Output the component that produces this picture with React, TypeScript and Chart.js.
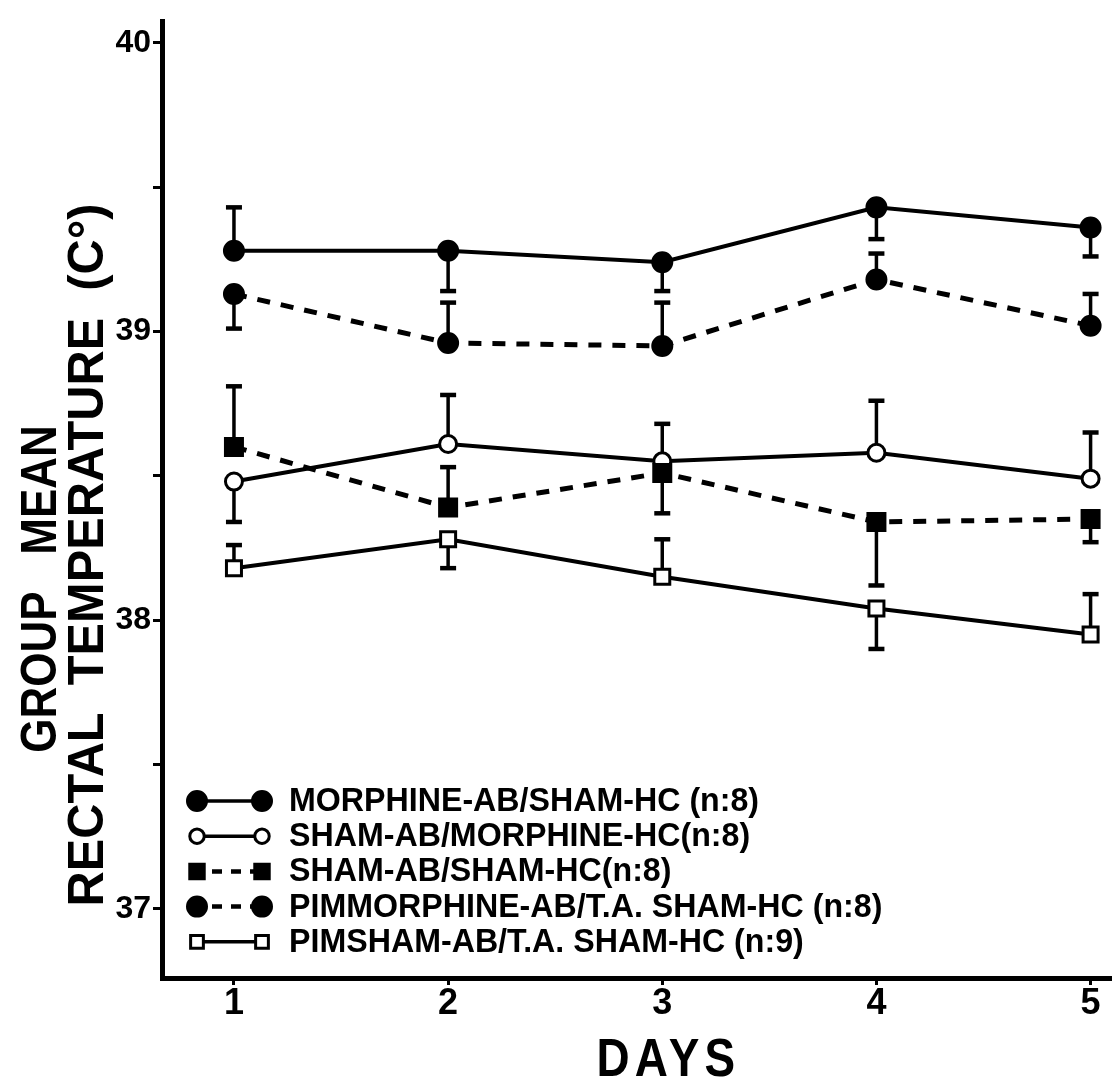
import React, { useEffect, useRef } from 'react';
import { Chart, registerables } from 'chart.js';

Chart.register(...registerables);

// ---------- data ----------
const days = [1, 2, 3, 4, 5];
const xTickValues = [1, 2, 3, 4, 5];
const yTickValues = [37, 37.5, 38, 38.5, 39, 39.5, 40];

const seriesLabels = [
  'MORPHINE-AB/SHAM-HC (n:8)',
  'SHAM-AB/MORPHINE-HC(n:8)',
  'SHAM-AB/SHAM-HC(n:8)',
  'PIMMORPHINE-AB/T.A. SHAM-HC (n:8)',
  'PIMSHAM-AB/T.A. SHAM-HC (n:9)',
];

const morphineAbShamHc = [39.28, 39.28, 39.24, 39.43, 39.36];
const shamAbMorphineHc = [38.48, 38.61, 38.55, 38.58, 38.49];
const shamAbShamHc = [38.6, 38.39, 38.51, 38.34, 38.35];
const pimMorphineAbTaShamHc = [39.13, 38.96, 38.95, 39.18, 39.02];
const pimShamAbTaShamHc = [38.18, 38.28, 38.15, 38.04, 37.95];

// standard error; positive = bar drawn upward, negative = drawn downward
const morphineAbShamHcSem = [0.15, -0.14, -0.1, -0.11, -0.1];
const shamAbMorphineHcSem = [-0.14, 0.17, 0.13, 0.18, 0.16];
const shamAbShamHcSem = [0.21, 0.14, -0.14, -0.22, -0.08];
const pimMorphineAbTaShamHcSem = [-0.12, 0.14, 0.15, 0.09, 0.11];
const pimShamAbTaShamHcSem = [0.08, -0.1, 0.13, -0.14, 0.14];

const xAxisTitle = 'DAYS';
const yAxisTitleLines = ['GROUP   MEAN', 'RECTAL  TEMPERATURE  (C°)'];

// ---------- styling ----------
const FONT = '"Liberation Sans", Arial, Helvetica, sans-serif';
const INK = '#000';

type Marker = { shape: 'circle' | 'rect'; filled: boolean };
const markers: Marker[] = [
  { shape: 'circle', filled: true },
  { shape: 'circle', filled: false },
  { shape: 'rect', filled: true },
  { shape: 'circle', filled: true },
  { shape: 'rect', filled: false },
];
const dashed = [false, false, true, true, false];

const seriesValues = [morphineAbShamHc, shamAbMorphineHc, shamAbShamHc, pimMorphineAbTaShamHc, pimShamAbTaShamHc];
const seriesSem = [morphineAbShamHcSem, shamAbMorphineHcSem, shamAbShamHcSem, pimMorphineAbTaShamHcSem, pimShamAbTaShamHcSem];

function drawMarker(ctx: CanvasRenderingContext2D, m: Marker, x: number, y: number, k = 1) {
  ctx.save();
  ctx.fillStyle = m.filled ? INK : '#fff';
  ctx.strokeStyle = INK;
  ctx.lineWidth = 3;
  ctx.beginPath();
  if (m.shape === 'circle') {
    ctx.arc(x, y, (m.filled ? 9.5 : 8.5) * k, 0, Math.PI * 2);
  } else {
    const h = (m.filled ? 8.5 : 7.5) * k;
    ctx.rect(x - h, y - h, 2 * h, 2 * h);
  }
  ctx.fill();
  ctx.stroke();
  ctx.restore();
}

const semBarsPlugin = {
  id: 'semBars',
  beforeDatasetsDraw(chart: any) {
    const ctx = chart.ctx as CanvasRenderingContext2D;
    const ys = chart.scales.y;
    chart.data.datasets.forEach((ds: any, di: number) => {
      const meta = chart.getDatasetMeta(di);
      meta.data.forEach((pt: any, i: number) => {
        const v = ds.data[i].y;
        const e = ds.sem[i];
        const yEnd = ys.getPixelForValue(v + e);
        ctx.save();
        ctx.strokeStyle = INK;
        ctx.lineWidth = 3.5;
        ctx.beginPath();
        ctx.moveTo(pt.x, pt.y);
        ctx.lineTo(pt.x, yEnd);
        ctx.stroke();
        ctx.lineWidth = 4.5;
        ctx.beginPath();
        ctx.moveTo(pt.x - 8, yEnd);
        ctx.lineTo(pt.x + 8, yEnd);
        ctx.stroke();
        ctx.restore();
      });
    });
  },
};

const markerPlugin = {
  id: 'customMarkers',
  afterDatasetsDraw(chart: any) {
    const ctx = chart.ctx as CanvasRenderingContext2D;
    chart.data.datasets.forEach((ds: any, di: number) => {
      const meta = chart.getDatasetMeta(di);
      meta.data.forEach((pt: any) => drawMarker(ctx, markers[di], pt.x, pt.y));
    });
  },
};

const legendPlugin = {
  id: 'boxLegend',
  afterDraw(chart: any) {
    const ctx = chart.ctx as CanvasRenderingContext2D;
    const top = 801;
    const gap = 35.2;
    const x1 = 197;
    const x2 = 262;
    chart.data.datasets.forEach((ds: any, i: number) => {
      const y = top + i * gap;
      ctx.save();
      ctx.strokeStyle = INK;
      ctx.lineWidth = dashed[i] ? 4.5 : 3.5;
      ctx.setLineDash(dashed[i] ? [10, 9] : []);
      ctx.beginPath();
      ctx.moveTo(x1 + (dashed[i] ? 15 : 0), y);
      ctx.lineTo(x2, y);
      ctx.stroke();
      ctx.restore();
      const k = markers[i].filled && markers[i].shape === 'circle' ? 1 : 0.85;
      drawMarker(ctx, markers[i], x1, y, k);
      drawMarker(ctx, markers[i], x2, y, k);
      ctx.save();
      ctx.fillStyle = INK;
      ctx.font = `bold 33px ${FONT}`;
      ctx.textBaseline = 'middle';
      ctx.textAlign = 'left';
      ctx.translate(289, y + 1);
      ctx.scale(0.975, 1);
      ctx.fillText(ds.label, 0, 0);
      ctx.restore();
    });
  },
};

const titlesPlugin = {
  id: 'axisTitles',
  afterDraw(chart: any) {
    const ctx = chart.ctx as CanvasRenderingContext2D;
    // y title, two rotated lines
    const lineX = [42, 89];
    const lineY = [589, 555];
    const lineScale = [0.88, 0.975];
    yAxisTitleLines.forEach((t, i) => {
      ctx.save();
      ctx.fillStyle = INK;
      ctx.font = `bold 50px ${FONT}`;
      ctx.textAlign = 'center';
      ctx.textBaseline = 'middle';
      ctx.translate(lineX[i], lineY[i]);
      ctx.rotate(-Math.PI / 2);
      ctx.scale(lineScale[i], 1);
      ctx.fillText(t, 0, 0);
      ctx.restore();
    });
    // x title
    ctx.save();
    ctx.fillStyle = INK;
    ctx.font = `bold 54px ${FONT}`;
    ctx.textAlign = 'center';
    ctx.textBaseline = 'alphabetic';
    (ctx as any).letterSpacing = '6px';
    const cx = chart.scales.x.getPixelForValue(3) + 6;
    ctx.translate(cx, 1076);
    ctx.scale(0.85, 1);
    ctx.fillText(xAxisTitle, 0, 0);
    ctx.restore();
  },
};

export default function App() {
  const ref = useRef<HTMLCanvasElement | null>(null);

  useEffect(() => {
    if (!ref.current) return;
    const datasets = seriesLabels.map((label, i) => ({
      label,
      data: days.map((d, k) => ({ x: d, y: seriesValues[i][k] })),
      sem: seriesSem[i],
      borderColor: INK,
      backgroundColor: INK,
      borderWidth: dashed[i] ? 5 : 4,
      borderDash: dashed[i] ? [13, 11] : [],
      pointRadius: 0,
      pointHoverRadius: 0,
      tension: 0,
      fill: false,
    }));

    const chart = new Chart(ref.current, {
      type: 'line',
      data: { datasets: datasets as any },
      plugins: [semBarsPlugin, markerPlugin, legendPlugin, titlesPlugin],
      options: {
        animation: false,
        responsive: false,
        maintainAspectRatio: false,
        layout: { padding: { top: 10, right: 0, bottom: 0, left: 0 } },
        plugins: { legend: { display: false }, tooltip: { enabled: false } },
        scales: {
          x: {
            type: 'linear',
            min: 0.664,
            max: 5.1,
            afterBuildTicks: (s: any) => {
              s.ticks = xTickValues.map((v) => ({ value: v }));
            },
            afterFit: (s: any) => {
              s.height = 100;
            },
            border: { display: true, color: INK, width: 5 },
            grid: { display: true, drawOnChartArea: false, drawTicks: true, tickLength: 7, tickWidth: 3, color: INK },
            ticks: {
              color: INK,
              font: { family: FONT, size: 36, weight: 'bold' },
              padding: -3,
              maxRotation: 0,
              callback: (v: any) => String(v),
            },
          },
          y: {
            type: 'linear',
            min: 36.76,
            max: 40.075,
            afterBuildTicks: (s: any) => {
              s.ticks = yTickValues.map((v) => ({ value: v }));
            },
            afterFit: (s: any) => {
              s.width = 162;
            },
            border: { display: true, color: INK, width: 5 },
            grid: { display: true, drawOnChartArea: false, drawTicks: true, tickLength: 9, tickWidth: 3, color: INK },
            ticks: {
              color: INK,
              font: { family: FONT, size: 32, weight: 'bold' },
              padding: 2,
              callback: (v: any) => (Number.isInteger(v) ? String(v) : ''),
            },
          },
        },
      },
    });
    return () => chart.destroy();
  }, []);

  return (
    <div style={{ position: 'fixed', left: 0, top: 0, width: 1112, height: 1078, background: '#fff' }}>
      <canvas ref={ref} width={1112} height={1078} style={{ width: 1112, height: 1078, display: 'block' }} />
    </div>
  );
}
